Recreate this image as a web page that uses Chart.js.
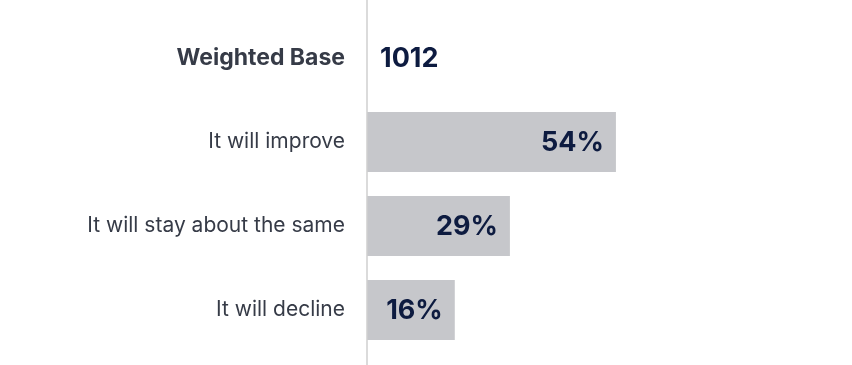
<!DOCTYPE html>
<html>
<head>
<meta charset="utf-8">
<script src="https://cdn.jsdelivr.net/npm/chart.js@4"></script>
<style>
html,body{margin:0;padding:0;background:#fff;}
#wrap{width:852px;height:365px;}
</style>
</head>
<body>
<div id="wrap"><canvas id="c" width="852" height="365"></canvas></div>
<script>
const categories = ["Weighted Base", "It will improve", "It will stay about the same", "It will decline"];
const values = [null, 54, 29, 16];
const valueLabels = ["1012", "54%", "29%", "16%"];
const scaleMin = -4.7;
const scaleMax = 100;

const labelPlugin = {
  id: 'labels',
  afterDatasetsDraw(chart) {
    const ctx = chart.ctx;
    const meta = chart.getDatasetMeta(0);
    const xs = chart.scales.x;
    ctx.save();
    ctx.fillStyle = '#0d1b40';
    ctx.textBaseline = 'middle';
    meta.data.forEach((bar, i) => {
      const y = chart.scales.y.getPixelForValue(i);
      if (values[i] === null) {
        ctx.font = 'bold 27px Inter, "Open Sans", sans-serif';
        ctx.textAlign = 'left';
        ctx.fillText(valueLabels[i], xs.left + 13, y + 1);
      } else {
        ctx.font = 'bold 27px Inter, "Open Sans", sans-serif';
        ctx.textAlign = 'right';
        ctx.fillText(valueLabels[i], bar.x - 12, y + 1);
      }
    });
    ctx.restore();
  },
  afterDraw(chart) {
    const ctx = chart.ctx;
    const x = chart.scales.y.right;
    ctx.save();
    ctx.strokeStyle = '#cfcfcf';
    ctx.lineWidth = 1.5;
    ctx.beginPath();
    ctx.moveTo(x, 0);
    ctx.lineTo(x, chart.height);
    ctx.stroke();
    ctx.restore();
  }
};

new Chart(document.getElementById('c'), {
  type: 'bar',
  data: {
    labels: categories,
    datasets: [{
      data: values,
      base: scaleMin,
      backgroundColor: '#c6c7cb',
      borderWidth: 0,
      barPercentage: 0.714,
      categoryPercentage: 1.0
    }]
  },
  options: {
    indexAxis: 'y',
    responsive: false,
    animation: false,
    layout: { padding: { top: 16, bottom: 13, left: 0, right: 41 } },
    plugins: { legend: { display: false }, tooltip: { enabled: false } },
    scales: {
      x: {
        display: false,
        min: scaleMin,
        max: scaleMax
      },
      y: {
        afterFit(scale) { scale.width = 367; scale.paddingTop = 0; scale.paddingBottom = 0; },
        grid: { display: false, drawTicks: false },
        border: { display: false },
        ticks: {
          padding: 22,
          color: '#363b47',
          font: (ctx) => ctx.index === 0
            ? { family: 'Inter, "Open Sans", sans-serif', size: 23, weight: 'bold' }
            : { family: 'Inter, "Open Sans", sans-serif', size: 21, weight: 'normal' }
        }
      }
    }
  },
  plugins: [labelPlugin]
});
</script>
</body>
</html>
